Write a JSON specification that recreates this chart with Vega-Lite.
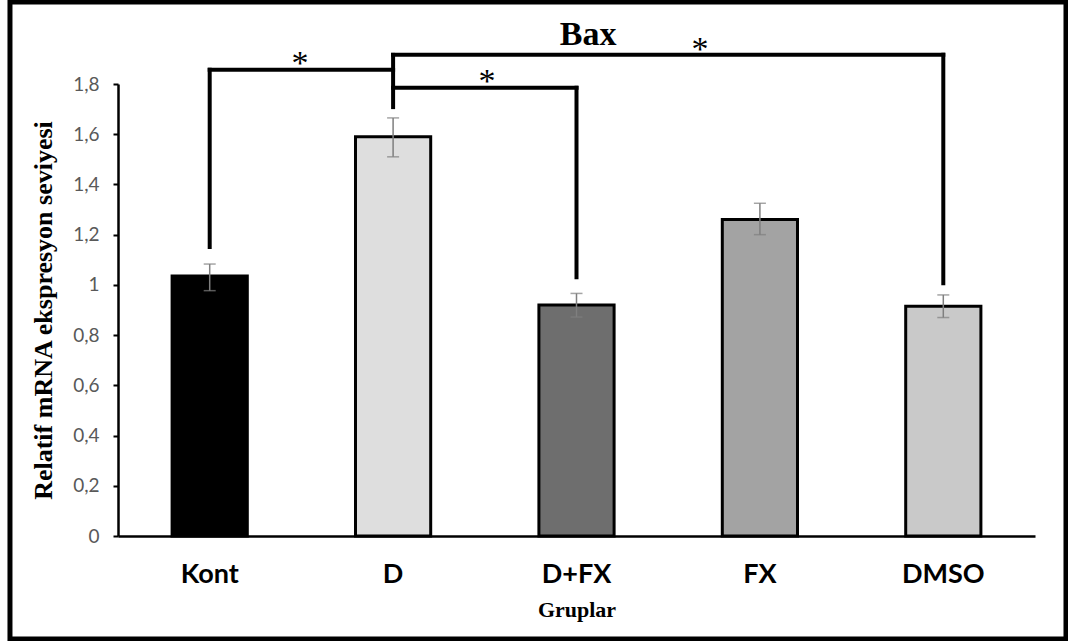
{
  "$schema": "https://vega.github.io/schema/vega-lite/v6.json",
  "width": 917,
  "height": 452,
  "autosize": "none",
  "padding": {"left": 118, "top": 84, "right": 33, "bottom": 105},
  "background": "white",
  "config": {"view": {"stroke": null}},
  "datasets": {
    "bars": [
      {"group": "Kont", "value": 1.035, "lo": 0.977, "hi": 1.083},
      {"group": "D", "value": 1.59, "lo": 1.51, "hi": 1.665},
      {"group": "D+FX", "value": 0.92, "lo": 0.872, "hi": 0.966},
      {"group": "FX", "value": 1.26, "lo": 1.2, "hi": 1.325},
      {"group": "DMSO", "value": 0.915, "lo": 0.87, "hi": 0.96}
    ],
    "segments": [
      {"x": 0.5, "x2": 0.5, "y": 1.151, "y2": 1.857},
      {"x": 0.5, "x2": 1.5, "y": 1.857, "y2": 1.857},
      {"x": 1.5, "x2": 1.5, "y": 1.708, "y2": 1.916},
      {"x": 1.5, "x2": 2.5, "y": 1.785, "y2": 1.785},
      {"x": 2.5, "x2": 2.5, "y": 1.03, "y2": 1.785},
      {"x": 1.5, "x2": 4.5, "y": 1.916, "y2": 1.916},
      {"x": 4.5, "x2": 4.5, "y": 1.007, "y2": 1.916}
    ],
    "stars": [
      {"x": 0.992, "y": 1.84, "t": "*"},
      {"x": 2.012, "y": 1.768, "t": "*"},
      {"x": 3.173, "y": 1.896, "t": "*"}
    ],
    "heading": [
      {"x": 2.563, "y": 1.955, "t": "Bax"}
    ]
  },
  "resolve": {"scale": {"x": "independent"}},
  "layer": [
    {
      "data": {"name": "bars"},
      "encoding": {
        "x": {
          "field": "group",
          "type": "nominal",
          "sort": null,
          "scale": {"paddingInner": 0.59, "paddingOuter": 0.295},
          "axis": {
            "title": "Gruplar",
            "labelAngle": 0,
            "ticks": false,
            "domainColor": "black",
            "domainWidth": 2.5,
            "labelFont": "Lato",
            "labelFontWeight": "bold",
            "labelFontSize": 27,
            "labelColor": "black",
            "labelPadding": 25,
            "titleFont": "Liberation Serif",
            "titleFontWeight": "bold",
            "titleFontSize": 22,
            "titleColor": "black",
            "titlePadding": 12
          }
        }
      },
      "layer": [
        {
          "mark": {"type": "bar", "stroke": "black", "strokeWidth": 3},
          "encoding": {
            "y": {
              "field": "value",
              "type": "quantitative",
              "scale": {"domain": [0, 1.8], "nice": false, "zero": true},
              "axis": {
                "title": "Relatif mRNA ekspresyon seviyesi",
                "values": [0, 0.2, 0.4, 0.6, 0.8, 1, 1.2, 1.4, 1.6, 1.8],
                "format": "~g",
                "labelExpr": "replace(datum.label, '.', ',')",
                "grid": false,
                "domainColor": "black",
                "domainWidth": 2.5,
                "tickColor": "black",
                "tickWidth": 2,
                "tickSize": 5,
                "labelColor": "#595959",
                "labelFont": "Lato",
                "labelFontSize": 19,
                "labelPadding": 14,
                "titleFont": "Liberation Serif",
                "titleFontWeight": "bold",
                "titleFontSize": 26,
                "titleColor": "black",
                "titlePadding": 16
              }
            },
            "fill": {
              "field": "group",
              "type": "nominal",
              "scale": {
                "domain": ["Kont", "D", "D+FX", "FX", "DMSO"],
                "range": ["#000000", "#dedede", "#6e6e6e", "#a3a3a3", "#c9c9c9"]
              },
              "legend": null
            }
          }
        },
        {
          "mark": {"type": "rule", "color": "#7f7f7f", "strokeWidth": 1.5},
          "encoding": {
            "y": {"field": "lo", "type": "quantitative"},
            "y2": {"field": "hi"}
          }
        },
        {
          "mark": {"type": "tick", "color": "#7f7f7f", "size": 12, "thickness": 1.5},
          "encoding": {"y": {"field": "hi", "type": "quantitative"}}
        },
        {
          "mark": {"type": "tick", "color": "#7f7f7f", "size": 12, "thickness": 1.5},
          "encoding": {"y": {"field": "lo", "type": "quantitative"}}
        }
      ]
    },
    {
      "data": {"name": "segments"},
      "mark": {"type": "rule", "color": "black", "strokeWidth": 4, "strokeCap": "square"},
      "encoding": {
        "x": {"field": "x", "type": "quantitative", "scale": {"domain": [0, 5], "nice": false, "zero": false}, "axis": null},
        "x2": {"field": "x2"},
        "y": {"field": "y", "type": "quantitative"},
        "y2": {"field": "y2"}
      }
    },
    {
      "data": {"name": "stars"},
      "mark": {"type": "text", "font": "Liberation Serif", "fontSize": 34, "baseline": "alphabetic", "align": "center", "color": "black"},
      "encoding": {
        "x": {"field": "x", "type": "quantitative", "scale": {"domain": [0, 5], "nice": false, "zero": false}, "axis": null},
        "y": {"field": "y", "type": "quantitative"},
        "text": {"field": "t"}
      }
    },
    {
      "data": {"name": "heading"},
      "mark": {"type": "text", "font": "Liberation Serif", "fontWeight": "bold", "fontSize": 34, "baseline": "alphabetic", "align": "center", "color": "black"},
      "encoding": {
        "x": {"field": "x", "type": "quantitative", "scale": {"domain": [0, 5], "nice": false, "zero": false}, "axis": null},
        "y": {"field": "y", "type": "quantitative"},
        "text": {"field": "t"}
      }
    },
    {
      "data": {"values": [{}]},
      "mark": {"type": "rect", "fillOpacity": 0, "stroke": "black", "strokeWidth": 5},
      "encoding": {
        "x": {"datum": -0.589, "type": "quantitative", "scale": {"domain": [0, 5], "nice": false, "zero": false}, "axis": null},
        "x2": {"datum": 5.169},
        "y": {"datum": 2.127, "type": "quantitative"},
        "y2": {"datum": -0.41}
      }
    }
  ]
}
